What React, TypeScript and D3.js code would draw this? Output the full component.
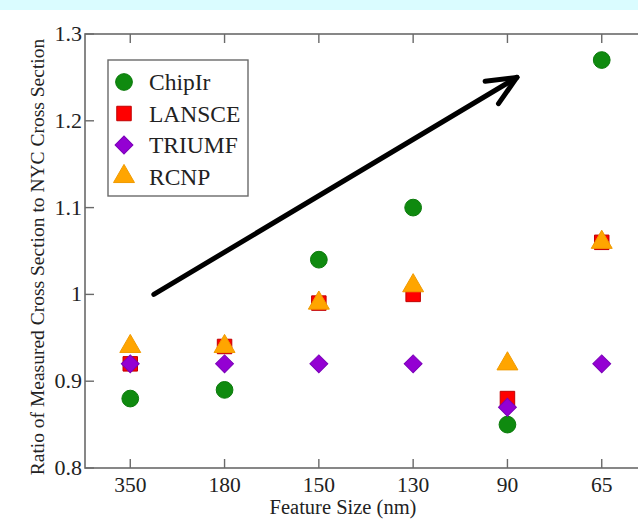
import React from "react";
import * as d3 from "d3";

const categories = ["350", "180", "150", "130", "90", "65"];
const chipIr = [0.88, 0.89, 1.04, 1.10, 0.85, 1.27];
const lansce = [0.92, 0.94, 0.99, 1.00, 0.88, 1.06];
const triumf = [0.92, 0.92, 0.92, 0.92, 0.87, 0.92];
const rcnp = [0.94, 0.94, 0.99, 1.01, 0.92, 1.06];
const yTicks = [0.8, 0.9, 1.0, 1.1, 1.2, 1.3];
const yTickLabels = ["0.8", "0.9", "1", "1.1", "1.2", "1.3"];
const seriesNames = ["ChipIr", "LANSCE", "TRIUMF", "RCNP"];
const arrowStart = [0.25, 1.0];
const arrowEnd = [4.1, 1.25];

const W = 638, H = 521;
const left = 85, right = 647, top = 34, bottom = 468;
const font = "'Liberation Serif', 'Times New Roman', serif";

const colors = ["#0f8a0f", "#ff0000", "#9400d3", "#ffa500"];
const strokes = ["#0b7a0b", "#c00000", "#7a00b8", "#f09a00"];
const shapes = [d3.symbolCircle, d3.symbolSquare, d3.symbolSquare, d3.symbolTriangle];
const sizes = [220, 210, 160, 190];
const rotations = [0, 0, 45, 0];

export default function App() {
  const x = d3.scaleLinear().domain([-0.48, 5.48]).range([left, right]);
  const y = d3.scaleLinear().domain([0.8, 1.3]).range([bottom, top]);
  const series = [chipIr, lansce, triumf, rcnp];
  const sym = (i: number) => d3.symbol().type(shapes[i]).size(sizes[i])() as string;

  const ax0 = x(arrowStart[0]), ay0 = y(arrowStart[1]);
  const ax1 = x(arrowEnd[0]), ay1 = y(arrowEnd[1]);
  const ang = Math.atan2(ay1 - ay0, ax1 - ax0);
  const headLen = 32, headAng = 0.42;
  const h1 = [ax1 - headLen * Math.cos(ang - headAng), ay1 - headLen * Math.sin(ang - headAng)];
  const h2 = [ax1 - headLen * Math.cos(ang + headAng), ay1 - headLen * Math.sin(ang + headAng)];

  return (
    <svg width={W} height={H} style={{ position: "absolute", left: 0, top: 0, background: "#fff" }} fontFamily={font}>
      <rect x={0} y={0} width={W} height={10} fill="#dafcff" />
      {/* frame */}
      <rect x={left} y={top} width={right - left} height={bottom - top} fill="none" stroke="#6a6a6a" strokeWidth={1.6} />
      {/* x ticks */}
      {categories.map((c, i) => (
        <g key={c}>
          <line x1={x(i)} x2={x(i)} y1={bottom} y2={bottom - 9} stroke="#6a6a6a" strokeWidth={1.4} />
          <line x1={x(i)} x2={x(i)} y1={top} y2={top + 9} stroke="#6a6a6a" strokeWidth={1.4} />
          <text x={x(i)} y={bottom + 24} textAnchor="middle" fontSize={21.5} fill="#222">{c}</text>
        </g>
      ))}
      {/* y ticks */}
      {yTicks.map((t, i) => (
        <g key={t}>
          <line x1={left} x2={left + 9} y1={y(t)} y2={y(t)} stroke="#6a6a6a" strokeWidth={1.4} />
          <line x1={right} x2={right - 9} y1={y(t)} y2={y(t)} stroke="#6a6a6a" strokeWidth={1.4} />
          <text x={left - 3} y={y(t) + 7} textAnchor="end" fontSize={22} fill="#222">{yTickLabels[i]}</text>
        </g>
      ))}
      <text x={343} y={514} textAnchor="middle" fontSize={20.5} fill="#222">Feature Size (nm)</text>
      <text transform={`translate(44,${(top + bottom) / 2 + 6}) rotate(-90)`} textAnchor="middle" fontSize={19.5} fill="#222">
        Ratio of Measured Cross Section to NYC Cross Section
      </text>
      {/* arrow */}
      <g stroke="#000" strokeWidth={5} strokeLinecap="round" fill="none">
        <line x1={ax0} y1={ay0} x2={ax1} y2={ay1} />
        <line x1={h1[0]} y1={h1[1]} x2={ax1} y2={ay1} />
        <line x1={h2[0]} y1={h2[1]} x2={ax1} y2={ay1} />
      </g>
      {/* points */}
      {series.map((s, si) => (
        <g key={si}>
          {s.map((v, i) => (
            <path key={i} d={sym(si)} transform={`translate(${x(i)},${y(v)}) rotate(${rotations[si]})`} fill={colors[si]} stroke={strokes[si]} strokeWidth={1} />
          ))}
        </g>
      ))}
      {/* legend */}
      <rect x={108} y={60} width={140} height={136} fill="#fff" stroke="#6a6a6a" strokeWidth={1.4} />
      {seriesNames.map((n, i) => (
        <g key={n} transform={`translate(0,${82 + i * 31.5})`}>
          <path d={sym(i)} transform={`translate(124,0) rotate(${rotations[i]})`} fill={colors[i]} stroke={strokes[i]} strokeWidth={1} />
          <text x={149} y={8} fontSize={23.5} fill="#222">{n}</text>
        </g>
      ))}
    </svg>
  );
}
